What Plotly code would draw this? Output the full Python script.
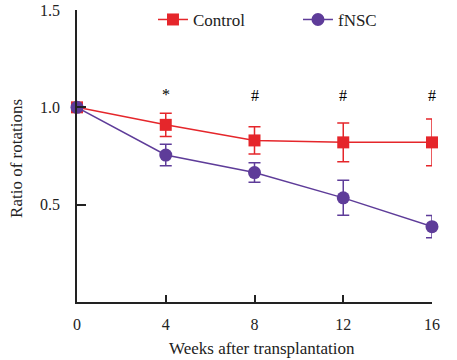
import plotly.graph_objects as go

weeks = [0, 4, 8, 12, 16]
control = [1.0, 0.91, 0.83, 0.82, 0.82]
control_err = [0.0, 0.06, 0.07, 0.10, 0.12]
fnsc = [1.0, 0.755, 0.665, 0.535, 0.387]
fnsc_err = [0.0, 0.055, 0.05, 0.09, 0.057]
sig_weeks = [4, 8, 12, 16]
sig_marks = ["*", "#", "#", "#"]
sig_y = [1.065, 1.06, 1.06, 1.06]
x_title = "Weeks after transplantation"
y_title = "Ratio of rotations"

RED = "#E5262B"
PURPLE = "#5E3C99"
FONT = "Liberation Serif"
TXT = "#222"

fig = go.Figure()
fig.add_trace(go.Scatter(
    x=weeks, y=control, name="Control", mode="lines+markers", cliponaxis=False,
    line=dict(color=RED, width=1.5),
    marker=dict(symbol="square", size=12, color=RED),
    error_y=dict(type="data", array=control_err, color=RED, thickness=1.5, width=6),
))
fig.add_trace(go.Scatter(
    x=weeks, y=fnsc, name="fNSC", mode="lines+markers", cliponaxis=False,
    line=dict(color=PURPLE, width=1.5),
    marker=dict(symbol="circle", size=13, color=PURPLE),
    error_y=dict(type="data", array=fnsc_err, color=PURPLE, thickness=1.5, width=6),
))

for w, m, yy in zip(sig_weeks, sig_marks, sig_y):
    fig.add_annotation(x=w, y=yy, text=m, showarrow=False,
                       font=dict(family=FONT, size=16, color="black"))

fig.add_annotation(xref="paper", yref="paper", x=0.52, y=-0.16, yanchor="middle",
                   text=x_title, showarrow=False, font=dict(family=FONT, size=17, color=TXT))
fig.add_annotation(xref="paper", yref="paper", x=-0.169, y=0.49, xanchor="center",
                   yanchor="middle", textangle=-90,
                   text=y_title, showarrow=False, font=dict(family=FONT, size=17, color=TXT))

fig.update_layout(
    width=457, height=360,
    margin=dict(l=77, r=25, t=10, b=58, autoexpand=False),
    plot_bgcolor="white", paper_bgcolor="white",
    font=dict(family=FONT, size=16, color=TXT),
    showlegend=True,
    legend=dict(orientation="h", x=0.214, y=0.966, xanchor="left", yanchor="middle",
                font=dict(family=FONT, size=17, color=TXT),
                bgcolor="rgba(0,0,0,0)", itemwidth=30, entrywidth=100, entrywidthmode="pixels"),
    xaxis=dict(range=[0, 16], tickvals=[0, 4, 8, 12, 16], ticks="inside", ticklen=7,
               tickwidth=1.5, tickcolor=TXT, showline=True, linecolor=TXT, linewidth=1.5,
               showgrid=False, zeroline=False, automargin=False, ticklabelstandoff=7,
               tickfont=dict(family=FONT, size=16, color=TXT)),
    yaxis=dict(range=[0, 1.5], tickvals=[0.5, 1.0, 1.5], ticktext=["0.5", "1.0", "1.5"],
               ticks="inside", ticklen=9, tickwidth=1.5, tickcolor=TXT,
               showline=True, linecolor=TXT, linewidth=1.5,
               showgrid=False, zeroline=False, automargin=False, ticklabelstandoff=12,
               tickfont=dict(family=FONT, size=16, color=TXT)),
)

fig.write_html("out.html", config={"displayModeBar": False},
               post_script="document.body.style.margin='0';")
